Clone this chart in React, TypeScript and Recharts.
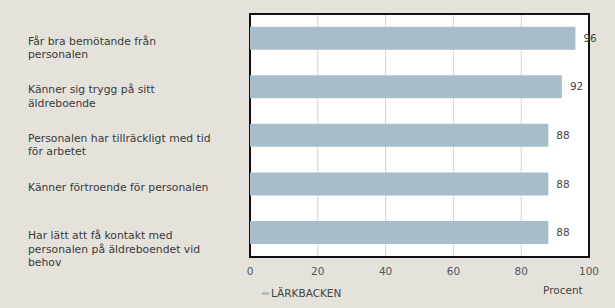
import { Bar, BarChart, CartesianGrid, LabelList, Legend, ReferenceArea, XAxis, YAxis } from "recharts";

const categories = [
  "Får bra bemötande från\npersonalen",
  "Känner sig trygg på sitt\näldreboende",
  "Personalen har tillräckligt med tid\nför arbetet",
  "Känner förtroende för personalen",
  "Har lätt att få kontakt med\npersonalen på äldreboendet vid\nbehov",
];
const lärkbacken = [96, 92, 88, 88, 88];
const xTicks = [0, 20, 40, 60, 80, 100];

const data = categories.map((name, i) => ({ name, value: lärkbacken[i] }));

const FONT = "'DejaVu Sans', sans-serif";

function CategoryTick({ y, payload }: any) {
  const lines = String(payload.value).split("\n");
  return (
    <text x={28} y={y + 3} fontFamily={FONT} fontSize={10.8} fill="#3a3a3a" textAnchor="start">
      {lines.map((line, i) => (
        <tspan key={i} x={28} dy={i === 0 ? "0.32em" : 13.5}>
          {line}
        </tspan>
      ))}
    </text>
  );
}

function LegendContent() {
  return (
    <div style={{ display: "flex", alignItems: "center", fontFamily: FONT, fontSize: 10.5, color: "#444" }}>
      <span style={{ display: "inline-block", width: 7, height: 3, background: "#b4bcc2", marginRight: 2 }} />
      LÄRKBACKEN
    </div>
  );
}

export default function App() {
  return (
    <div style={{ position: "fixed", left: 0, top: 0, width: 615, height: 308, background: "#e4e2da" }}>
      <BarChart
        width={615}
        height={308}
        data={data}
        layout="vertical"
        margin={{ top: 14, right: 26, bottom: 21, left: 0 }}
        barCategoryGap="26%"
      >
        <CartesianGrid horizontal={false} stroke="#d4d4d4" fill="#ffffff" />
        <XAxis
          type="number"
          domain={[0, 100]}
          ticks={xTicks}
          height={30}
          axisLine={false}
          tickLine={false}
          tickMargin={5}
          tick={{ fill: "#555", fontSize: 10.5, fontFamily: FONT }}
        />
        <YAxis
          type="category"
          dataKey="name"
          width={250}
          axisLine={false}
          tickLine={false}
          tick={<CategoryTick />}
          interval={0}
        />
        <Bar dataKey="value" name="LÄRKBACKEN" fill="#a8bdca" isAnimationActive={false}>
          <LabelList
            dataKey="value"
            position="right"
            offset={8}
            style={{ fill: "#444", fontSize: 10.5, fontFamily: FONT }}
          />
        </Bar>
        <ReferenceArea x1={0} x2={100} fill="none" stroke="#111" strokeWidth={2} ifOverflow="visible" />
        <Legend
          layout="horizontal"
          verticalAlign="middle"
          align="center"
          content={<LegendContent />}
          wrapperStyle={{ left: 262, top: 287, width: "auto" }}
        />
      </BarChart>
      <div
        style={{
          position: "absolute",
          left: 543,
          top: 284,
          fontFamily: FONT,
          fontSize: 10.5,
          color: "#444",
        }}
      >
        Procent
      </div>
    </div>
  );
}
